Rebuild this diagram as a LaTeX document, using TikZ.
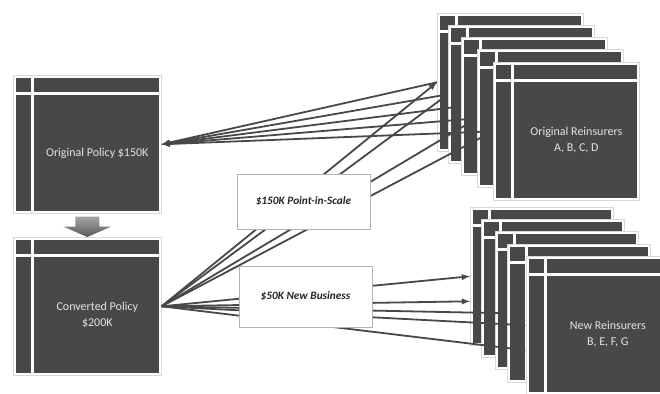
\documentclass[tikz,border=0pt]{standalone}
\usepackage{fontspec}
\setmainfont{Carlito}
\definecolor{slate}{RGB}{72,72,74}
\definecolor{slatetext}{RGB}{228,228,228}
\tikzset{
  winframe/.style={draw=black!15, fill=white, line width=0.6pt, anchor=north west, inner sep=0pt, minimum width=#1, minimum height=138pt},
  winframe/.default=148pt,
  wintext/.style={text=slatetext, align=center, font=\fontsize{12}{16}\selectfont},
  link/.style={draw=slate, line width=1.8pt},
  tag/.style={draw=black!30, fill=white, line width=0.6pt, font=\fontsize{11.3}{12}\selectfont\bfseries\itshape, text=black!85},
}
% dark panels of one window box
\newcommand{\winpanels}[1]{%
  \fill[slate] ([shift={(3,3)}]#1.north west) rectangle ([shift={(18,17)}]#1.north west);
  \fill[slate] ([shift={(21,3)}]#1.north west) rectangle ([shift={(-3,17)}]#1.north east);
  \fill[slate] ([shift={(3,20)}]#1.north west) rectangle ([shift={(18,-3)}]#1.south west);
  \fill[slate] ([shift={(21,20)}]#1.north west) rectangle ([shift={(-3,-3)}]#1.south east);
}
\begin{document}
\begin{tikzpicture}[x=1pt,y=-1pt]
\useasboundingbox (0,0) rectangle (660,393);
\clip (0,0) rectangle (660,393);
% policies
\node[winframe] (op) at (13,75) {};
\winpanels{op}
\node[winframe] (cp) at (13,237) {};
\winpanels{cp}
% reinsurer stacks
\foreach \n/\x/\y in {1/437/13,2/448/25,3/461/37,4/477/49,5/493/62}{
  \node[winframe=146pt] (o\n) at (\x,\y) {};
  \winpanels{o\n}
}
\foreach \n/\x/\y in {1/470/207,2/481/219,3/495/231,4/507/244,5/526/256}{
  \node[winframe=143pt] (n\n) at (\x,\y) {};
  \winpanels{n\n}
}
% connectors
\foreach \n in {1,...,5}{\draw[link,-latex] (o\n.west) -- (op.east);}
\foreach \n in {1,2,4,5}{\draw[link,-latex] (cp.east) -- (o\n.west);}
\draw[link,-latex] (cp.east) -- (n1.west);
\draw[link,-latex] (cp.east) -- ([yshift=-25pt]n1.west);
\draw[link,-latex] (cp.east) -- (n4.west);
\draw[link,-latex] (cp.east) -- (n5.west);
\draw[link,-latex] (cp.east) -- ([yshift=-25pt]n5.west);
% labels
\node[tag, minimum width=133pt, minimum height=55pt] (pis) at (303.5,201.5) {\$150K Point-in-Scale};
\node[tag, minimum width=133pt, minimum height=61pt] (nb) at (305.5,296.5) {\$50K New Business};
\node[wintext] (optxt) at ([shift={(10,9)}]op.center) {Original Policy \$150K};
\node[wintext] (cptxt) at ([shift={(10,9)}]cp.center) {Converted Policy\\\$200K};
\node[wintext] (otxt) at ([shift={(10,9)}]o5.center) {Original Reinsurers\\A, B, C, D};
\node[wintext] (ntxt) at ([shift={(10,9)}]n5.center) {New Reinsurers\\B, E, F, G};
% block arrow
\shade[top color=black!35, bottom color=black!65]
  ([shift={(-12,3)}]op.south) -- ([shift={(12,3)}]op.south) -- ([shift={(12,13)}]op.south)
  -- ([shift={(24,13)}]op.south) -- (cp.north) -- ([shift={(-24,13)}]op.south)
  -- ([shift={(-12,13)}]op.south) -- cycle;
\end{tikzpicture}
\end{document}
